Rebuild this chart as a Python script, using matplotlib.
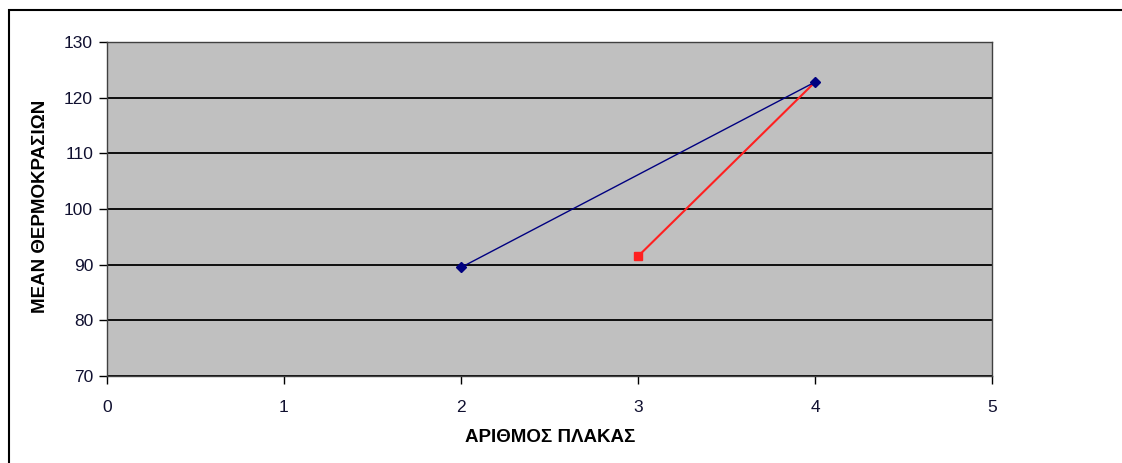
import matplotlib
matplotlib.use("Agg")
import matplotlib.pyplot as plt
from matplotlib.patches import Rectangle

plt.rcParams['font.family'] = ['Liberation Sans', 'DejaVu Sans']

# Series data
plate_blue = [2, 4]
temp_blue = [89.5, 122.8]
plate_red = [3, 4]
temp_red = [91.5, 122.8]

x_ticks = [0, 1, 2, 3, 4, 5]
y_ticks = [70, 80, 90, 100, 110, 120, 130]
x_label = "ΑΡΙΘΜΟΣ ΠΛΑΚΑΣ"
y_label = "ΜΕΑΝ ΘΕΡΜΟΚΡΑΣΙΩΝ"

W, H = 1122, 463
fig = plt.figure(figsize=(W / 100, H / 100), dpi=100)

# Outer chart border
fig.patches.append(Rectangle((8.5 / W, -0.05), 1.2, (H - 10.5) / H + 0.05,
                             transform=fig.transFigure, fill=False,
                             edgecolor='black', linewidth=1.5, zorder=0))

ax = fig.add_axes([107 / W, 1 - 376 / H, (992 - 107) / W, (376 - 42) / H])
ax.set_facecolor('#C0C0C0')
ax.set_xlim(0, 5)
ax.set_ylim(70, 130)
ax.set_xticks(x_ticks)
ax.set_yticks(y_ticks)
ax.tick_params(direction='out', length=6, width=1, colors='black',
               labelcolor='#101030', labelsize=12.5, pad=4)
ax.tick_params(axis='x', pad=11)
for sp in ax.spines.values():
    sp.set_color('#404040')
    sp.set_linewidth(1)
ax.yaxis.grid(True, color='black', linewidth=1.3)
ax.set_axisbelow(True)

ax.plot(plate_red, temp_red, color='#FF2020', linewidth=1.5, marker='s',
        markersize=6, markevery=[0], zorder=3)
ax.plot(plate_blue, temp_blue, color='#000080', linewidth=1.0, marker='D',
        markersize=5, zorder=4)

fig.text(550 / W, 1 - 438 / H, x_label, ha='center', va='center',
         fontsize=13.5, fontweight='bold')
fig.text(41 / W, 1 - 206 / H, y_label, ha='center', va='center',
         rotation=90, fontsize=13.5, fontweight='bold')

fig.savefig('out.png', dpi=100)
